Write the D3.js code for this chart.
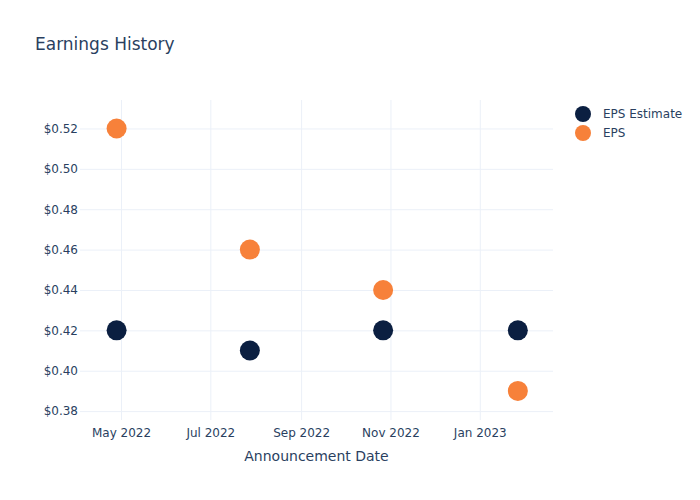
<!DOCTYPE html>
<html><head><meta charset="utf-8">
<script src="https://cdn.jsdelivr.net/npm/d3@7"></script>
<style>body{margin:0;background:#fff}svg{display:block}</style>
</head><body>
<script>
const dates = ["2022-04-28","2022-07-28","2022-10-27","2023-01-27"];
const epsEstimate = [0.42, 0.41, 0.42, 0.42];
const eps = [0.52, 0.46, 0.44, 0.39];
const yTicks = [0.38,0.40,0.42,0.44,0.46,0.48,0.50,0.52];
const xTickDates = ["2022-05-01","2022-07-01","2022-09-01","2022-11-01","2023-01-01"];
const seriesNames = ["EPS Estimate","EPS"];

const W=700,H=500, L=80, R=553, T=100, B=420;
const txt="#2a3f5f", grid="#ebf0f8";
const colors=["#0b1f41","#f7813a"];
const font="'DejaVu Sans', sans-serif";
const parse=d3.utcParse("%Y-%m-%d");

const svg=d3.select("body").append("svg").attr("width",W).attr("height",H).style("font-family",font);

const x=d3.scaleUtc().domain([parse("2022-04-03"),parse("2023-02-20")]).range([L,R]);
const y=d3.scaleLinear().domain([0.3756,0.5341]).range([B,T]);

// grid
const gx=svg.append("g").attr("transform",`translate(0,${B})`)
 .call(d3.axisBottom(x).tickValues(xTickDates.map(parse)).tickSize(-(B-T)).tickFormat(d3.utcFormat("%b %Y")));
gx.select(".domain").remove();
gx.selectAll("line").attr("stroke",grid);
gx.selectAll("text").attr("fill",txt).attr("font-size",12).attr("dy","1.2em").attr("font-family",font);

const gy=svg.append("g").attr("transform",`translate(${L},0)`)
 .call(d3.axisLeft(y).tickValues(yTicks).tickSize(-(R-L)).tickPadding(2).tickFormat(d=>"$"+d3.format(".2f")(d)));
gy.select(".domain").remove();
gy.selectAll("line").attr("stroke",grid);
gy.selectAll("text").attr("fill",txt).attr("font-size",12).attr("font-family",font);

// points
[epsEstimate,eps].forEach((vals,i)=>{
  svg.append("g").selectAll("circle").data(vals).join("circle")
    .attr("cx",(d,j)=>x(parse(dates[j]))).attr("cy",d=>y(d)).attr("r",10)
    .attr("fill",colors[i]);
});

// title
svg.append("text").attr("x",35).attr("y",50).attr("fill",txt).attr("font-size",17).text("Earnings History");
svg.append("text").attr("x",(L+R)/2).attr("y",461).attr("text-anchor","middle").attr("fill",txt).attr("font-size",14).text("Announcement Date");

// legend
const lg=svg.append("g");
seriesNames.forEach((n,i)=>{
  const yy=114+i*19;
  lg.append("circle").attr("cx",583).attr("cy",yy).attr("r",8).attr("fill",colors[i]);
  lg.append("text").attr("x",603).attr("y",yy+4).attr("fill",txt).attr("font-size",12).text(n);
});
</script>
</body></html>
